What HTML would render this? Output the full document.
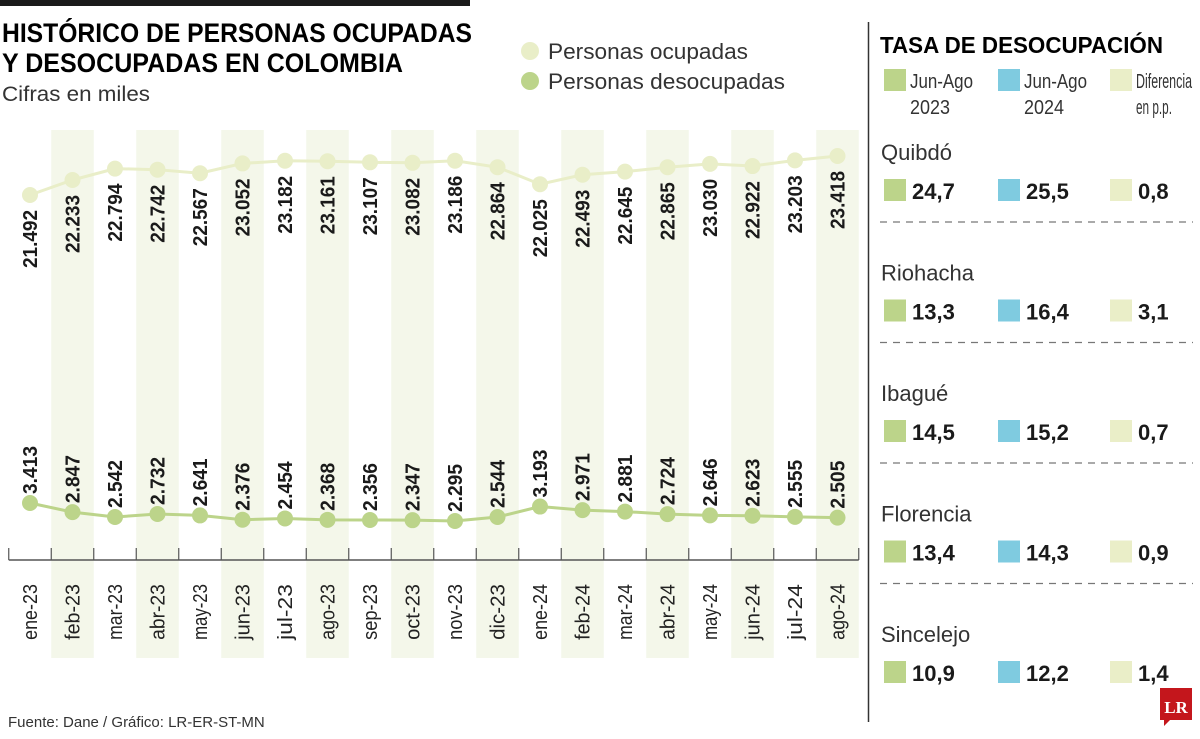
<!DOCTYPE html>
<html><head><meta charset="utf-8">
<style>
body{margin:0;width:1200px;height:734px;background:#fff;overflow:hidden;font-family:"Liberation Sans",sans-serif;color:#1a1a1a}
svg text{font-family:"Liberation Sans Narrow","Liberation Sans",sans-serif}
</style></head>
<body>
<svg width="1200" height="734" viewBox="0 0 1200 734">
<rect x="0" y="0" width="470" height="6" fill="#1a1a1a"/>
<text x="2" y="42" font-size="27" font-weight="bold" textLength="470" lengthAdjust="spacingAndGlyphs">HISTÓRICO DE PERSONAS OCUPADAS</text>
<text x="2" y="72" font-size="27" font-weight="bold" textLength="401" lengthAdjust="spacingAndGlyphs">Y DESOCUPADAS EN COLOMBIA</text>
<text x="2" y="101" font-size="21" fill="#333" textLength="148" lengthAdjust="spacingAndGlyphs">Cifras en miles</text>
<circle cx="530" cy="51" r="9" fill="#e9eec8"/>
<text x="548" y="59" font-size="22" fill="#333" textLength="200" lengthAdjust="spacingAndGlyphs">Personas ocupadas</text>
<circle cx="530" cy="81" r="9" fill="#bcd48a"/>
<text x="548" y="89" font-size="22" fill="#333" textLength="237" lengthAdjust="spacingAndGlyphs">Personas desocupadas</text>
<g id="plot"></g>
<text x="8" y="727" font-size="15" fill="#333">Fuente: Dane / Gráfico: LR-ER-ST-MN</text>
<line x1="868.5" y1="22" x2="868.5" y2="722" stroke="#333" stroke-width="1.5"/>
<text x="880" y="53" font-size="23" font-weight="bold" textLength="283" lengthAdjust="spacingAndGlyphs">TASA DE DESOCUPACIÓN</text>
<g id="panel"></g>
<g>
<path d="M1160 688 h32 v32 h-22 l-6 6 v-6 h-4 z" fill="#c4161c"/>
<text x="1176" y="713" font-size="17" font-weight="bold" fill="#fff" text-anchor="middle" style="font-family:'Liberation Serif',serif">LR</text>
</g>
</svg>
<script>
const months=["ene-23","feb-23","mar-23","abr-23","may-23","jun-23","jul-23","ago-23","sep-23","oct-23","nov-23","dic-23","ene-24","feb-24","mar-24","abr-24","may-24","jun-24","jul-24","ago-24"];
const ocupadas=[21492,22233,22794,22742,22567,23052,23182,23161,23107,23082,23186,22864,22025,22493,22645,22865,23030,22922,23203,23418];
const desocupadas=[3413,2847,2542,2732,2641,2376,2454,2368,2356,2347,2295,2544,3193,2971,2881,2724,2646,2623,2555,2505];
const cities=["Quibdó","Riohacha","Ibagué","Florencia","Sincelejo"];
const rate2023=[24.7,13.3,14.5,13.4,10.9];
const rate2024=[25.5,16.4,15.2,14.3,12.2];
const diff=[0.8,3.1,0.7,0.9,1.4];

const NS="http://www.w3.org/2000/svg";
const plot=document.getElementById('plot');
function mk(tag,attrs,parent){const e=document.createElementNS(NS,tag);for(const k in attrs)e.setAttribute(k,attrs[k]);(parent||plot).appendChild(e);return e;}
const xs=i=>30+i*42.5;
const yOc=v=>195-(v-21492)*(39/1926);
const yDe=v=>503+(3413-v)*0.0161;
const fmt=v=>{const s=String(v);return s.slice(0,s.length-3)+"."+s.slice(-3);};

months.forEach((m,i)=>{
  if(i%2===1){const b=mk('rect',{x:xs(i)-21.25,y:130,width:42.5,height:528,fill:'#f4f7ea'});
    
    }
});
const ax=mk('line',{x1:8.75,y1:560,x2:858.75,y2:560,stroke:'#555','stroke-width':1.5});


for(let i=0;i<=months.length;i++){const t=mk('line',{x1:8.75+i*42.5,y1:548,x2:8.75+i*42.5,y2:560,stroke:'#555','stroke-width':1.2});
  
  }
months.forEach((m,i)=>{
  const t=mk('text',{x:0,y:0,'font-size':20,fill:'#222','text-anchor':'middle',textLength:m.length*9.3,lengthAdjust:'spacingAndGlyphs',transform:`translate(${xs(i)+7},612) rotate(-90)`});
  t.textContent=m;
  
  
});
function series(vals,yf,col,name,above,len){
  const pts=vals.map((v,i)=>xs(i)+','+yf(v)).join(' ');
  const l=mk('polyline',{points:pts,fill:'none',stroke:col,'stroke-width':3});
  
  
  vals.forEach((v,i)=>{
    const c=mk('circle',{cx:xs(i),cy:yf(v),r:8,fill:col});
    
    
    const y=yf(v);
    const t=mk('text',{x:0,y:0,'font-size':20,'font-weight':'bold',fill:'#1a1a1a','text-anchor':above?'start':'end',textLength:len,lengthAdjust:'spacingAndGlyphs',transform:`translate(${xs(i)+7},${above?y-9:y+15}) rotate(-90)`});
    t.textContent=fmt(v);
    
    
  });
}
series(ocupadas,yOc,'#e9eec8','ocupadas',false,58);
series(desocupadas,yDe,'#bcd48a','desocupadas',true,48);

const panel=document.getElementById('panel');
const cols=[[884,'#bcd48a'],[998,'#7fcbe0'],[1110,'#eaeec8']];
const legTxt=[["Jun-Ago","2023"],["Jun-Ago","2024"],["Diferencia","en p.p."]];
const legLen=[[63,40],[63,40],[56,36]];
cols.forEach((c,k)=>{
  const s=mk('rect',{x:c[0],y:69,width:22,height:22,fill:c[1]},panel);
  
  
  legTxt[k].forEach((tx,j)=>{
    const t=mk('text',{x:c[0]+26,y:88+j*26,'font-size':20,fill:'#333',textLength:legLen[k][j],lengthAdjust:'spacingAndGlyphs'},panel);
    t.textContent=tx;
    
    
  });
});
const fm=v=>v.toFixed(1).replace('.',',');
cities.forEach((c,i)=>{
  const y0=160+i*120.5;
  const t=mk('text',{x:881,y:y0,'font-size':22,fill:'#333'},panel);
  t.textContent=c;
  
  
  [rate2023[i],rate2024[i],diff[i]].forEach((v,k)=>{
    const s=mk('rect',{x:cols[k][0],y:y0+19,width:22,height:22,fill:cols[k][1]},panel);
    
    
    const n=mk('text',{x:cols[k][0]+28,y:y0+39,'font-size':22,'font-weight':'bold',fill:'#1a1a1a'},panel);
    n.textContent=fm(v);
    
    
  });
  if(i<cities.length-1){
    const d=mk('line',{x1:880,y1:y0+62,x2:1193,y2:y0+62,stroke:'#777','stroke-width':1.3,'stroke-dasharray':'7 6'},panel);
    
    
  }
});
</script>
</body></html>
